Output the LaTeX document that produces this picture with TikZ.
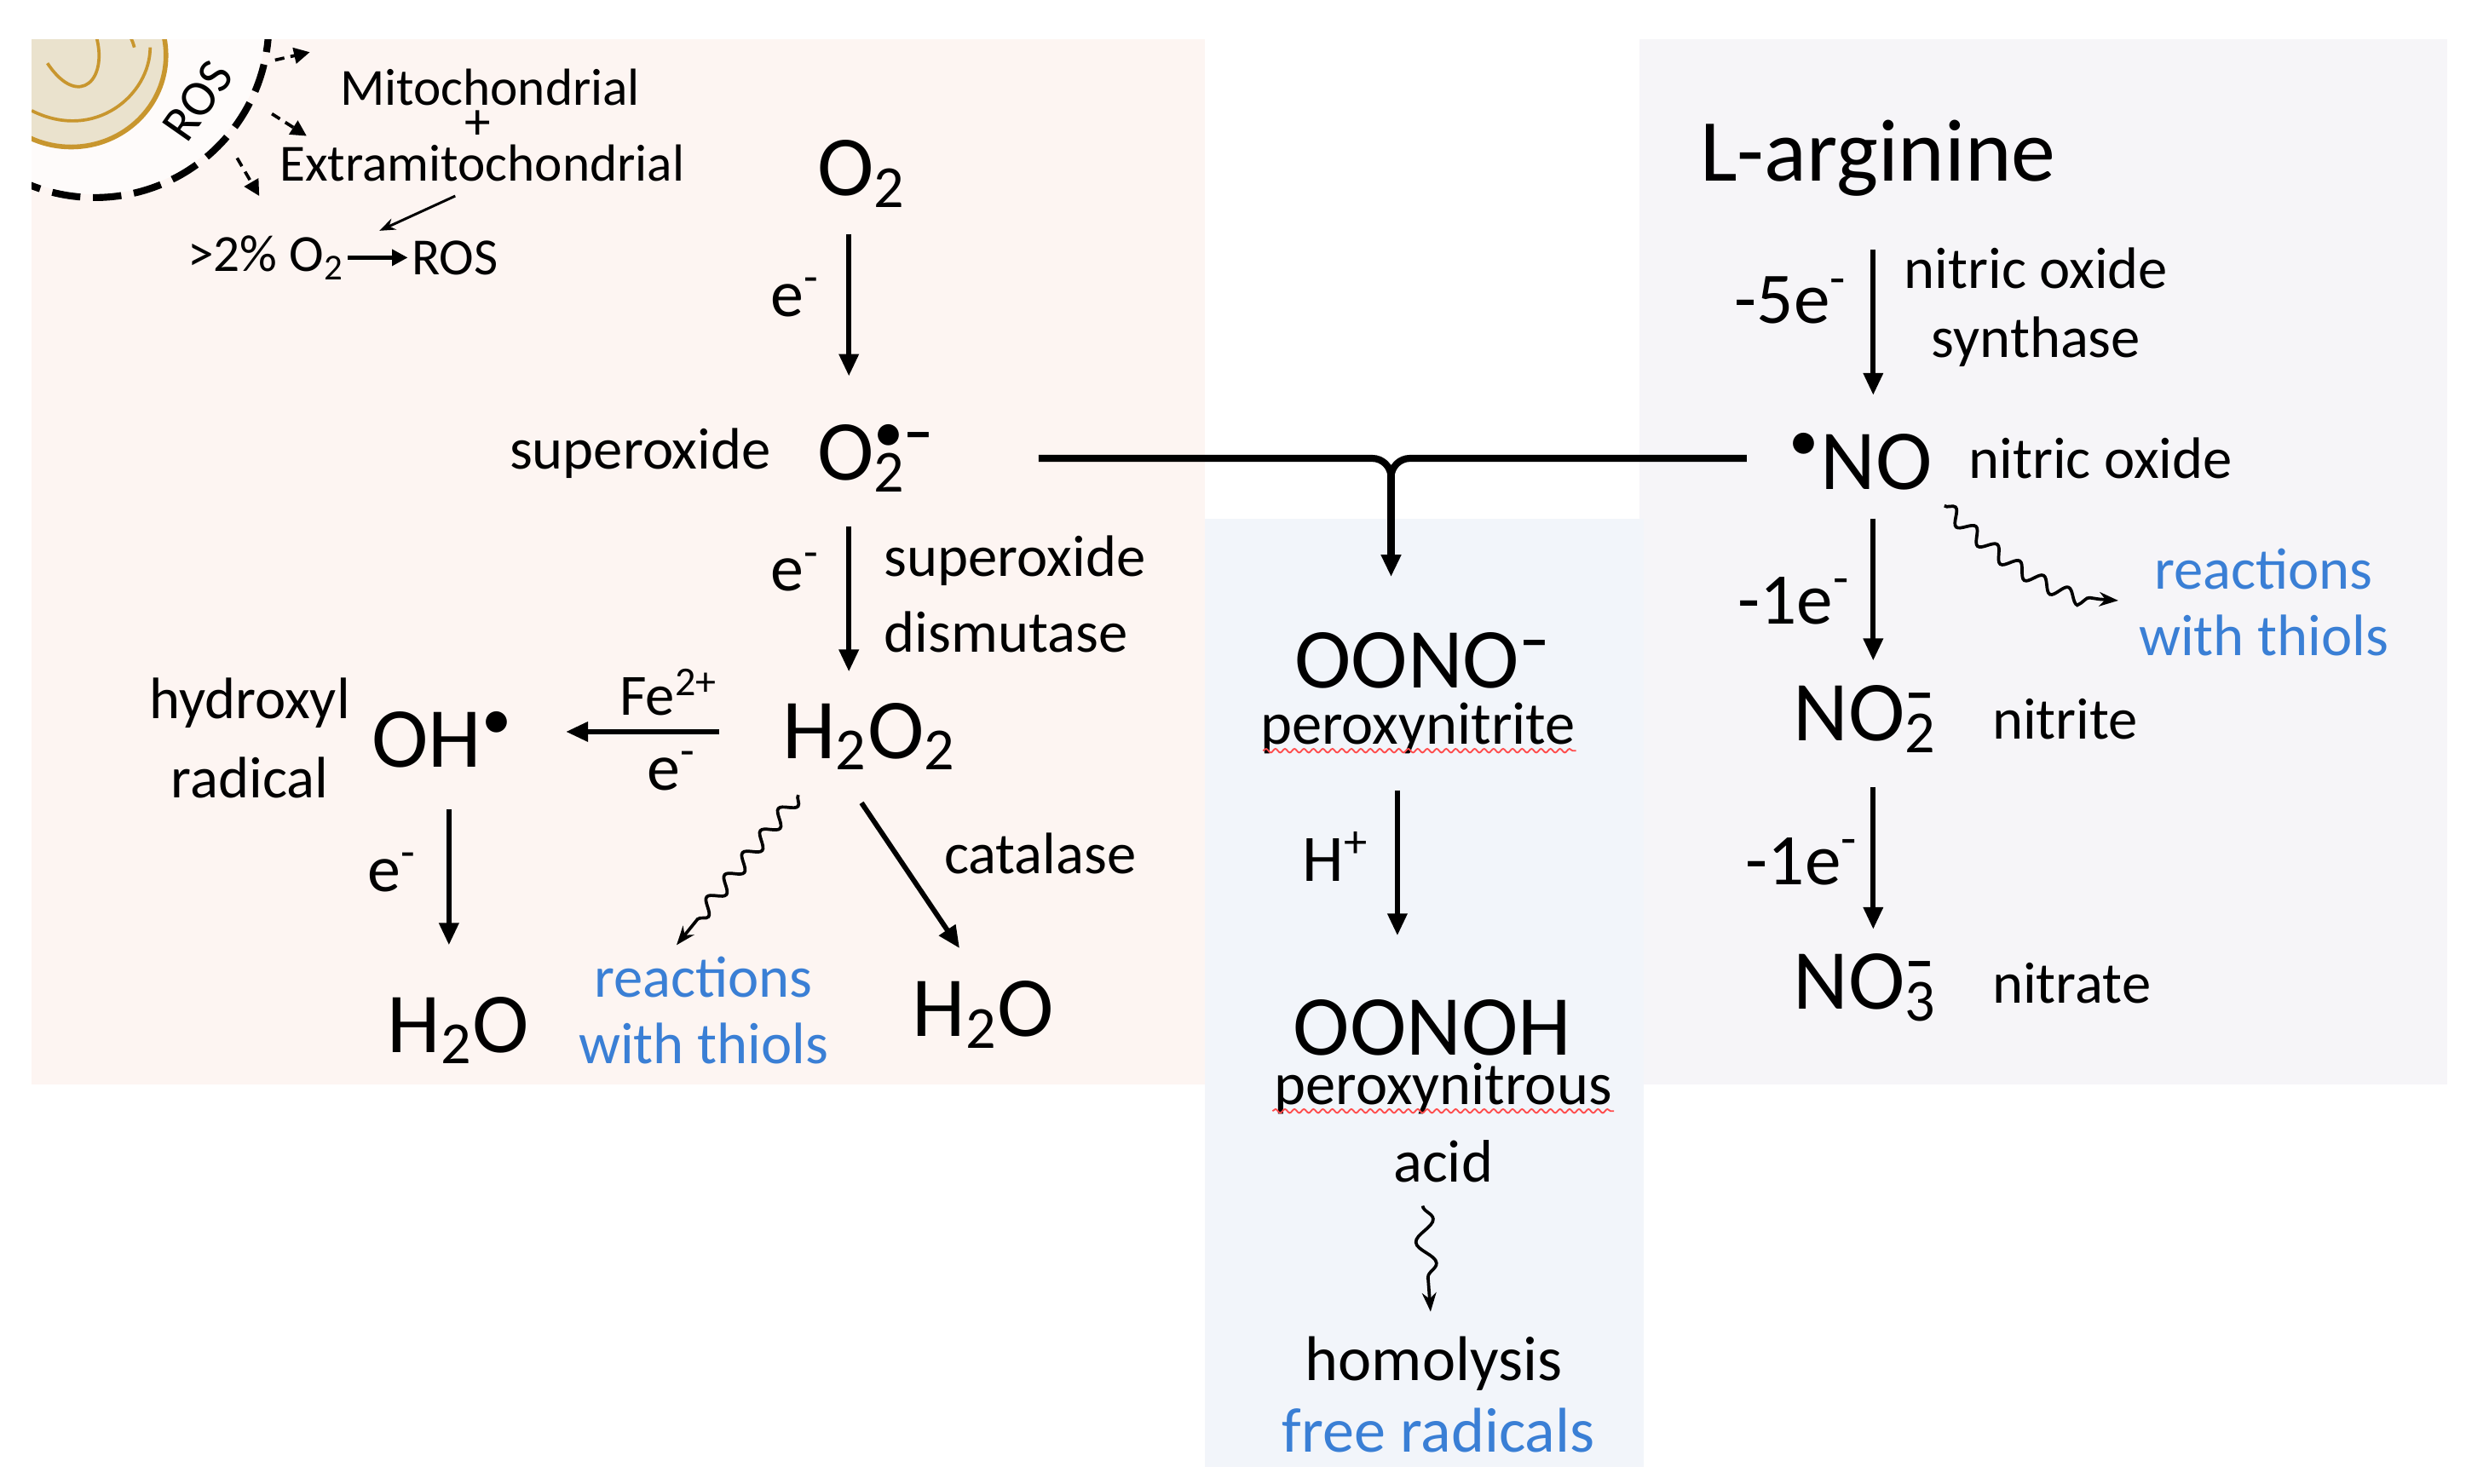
\documentclass[tikz,border=0pt]{standalone}
\usepackage{fontspec}
\setmainfont{Carlito}
\usetikzlibrary{arrows.meta,decorations.pathmorphing}
\newcommand\sub[1]{\textsubscript{#1}}
\newcommand\ssup[2]{\rlap{\textsuperscript{#1}}\textsubscript{#2}}
\definecolor{pinkbg}{HTML}{FDF5F2}
\definecolor{greybg}{HTML}{F6F5F8}
\definecolor{bluebg}{HTML}{F2F5FA}
\definecolor{thiol}{HTML}{3A7FD5}
\definecolor{mito}{HTML}{C8962E}
\definecolor{mitofill}{HTML}{EAE2CD}
\tikzset{
 lbl/.style={font=\fontsize{18.5}{21}\selectfont,inner sep=1pt},
 sml/.style={font=\fontsize{16.5}{18}\selectfont,inner sep=1pt},
 ee/.style={font=\fontsize{21}{22}\selectfont,inner sep=1pt},
 big/.style={font=\fontsize{27}{30}\selectfont,inner sep=1pt},
 blue/.style={lbl,text=thiol,align=center},
 arr/.style={-{Triangle[length=7pt,width=6pt]},line width=1.6pt},
 wav/.style={-{Stealth[length=6pt]},line width=1pt,decorate,decoration={snake,amplitude=2.2pt,segment length=9pt,post length=6pt}},
 spell/.style={red!70,line width=0.5pt,decorate,decoration={snake,amplitude=0.6pt,segment length=3pt}}
}
\begin{document}
\begin{tikzpicture}[x=0.5pt,y=-0.5pt]
\useasboundingbox (0,0) rectangle (1560,939);
\fill[white] (0,0) rectangle (1560,939);
\fill[pinkbg] (20,25) rectangle (762,686);
\fill[greybg] (1037,25) rectangle (1548,686);
\fill[bluebg] (762,328) rectangle (1040,928);
% mitochondrion
\begin{scope}
\clip (20,25) rectangle (762,686);
\fill[white!60!pinkbg] (60,15) circle (108);
\draw[mito,line width=1.5pt,fill=mitofill] (45,35) ellipse (60 and 58);
\draw[mito,line width=1pt] (30,40) .. controls (50,70) and (70,50) .. (60,20) .. controls (55,0) and (80,10) .. (85,30);
\draw[mito,line width=1pt] (20,70) .. controls (60,90) and (95,60) .. (95,30);
\draw[dash pattern=on 9pt off 4pt,line width=2.2pt] (60,15) circle (110);
\node[rotate=55,font=\fontsize{16}{18}\selectfont,inner sep=0pt] (ros) at (125,64) {ROS};
\end{scope}
\coordinate (m1) at (174,38); \coordinate (m1e) at (196,33);
\coordinate (m2) at (172,72); \coordinate (m2e) at (194,86);
\coordinate (m3) at (150,100); \coordinate (m3e) at (164,124);
\foreach \a/\b in {m1/m1e,m2/m2e,m3/m3e}
 \draw[-{Triangle[length=5pt,width=5pt]},line width=1pt,dash pattern=on 3pt off 2pt] (\a) -- (\b);
\node[sml] (mit) at (310,55) {Mitochondrial};
\node[sml] (plus) at (302,79) {+};
\node[sml] (ext) at (305,103) {Extramitochondrial};
\node[sml,anchor=east] (pct) at (220,163) {>2\% O\sub{2}};
\node[sml,anchor=west] (ros2) at (258,163) {ROS};
\draw[-{Stealth[length=5pt]},line width=0.8pt] (288,124) -- (240,146);
\draw[-{Triangle[length=5pt,width=5pt]},line width=1.3pt] (pct) -- (ros2);
% left chain
\node[big] (o2) at (545,110) {O\sub{2}};
\node[big] (sup) at (545,290) {O\ssup{•\textbf{–}}{2}};
\node[lbl,anchor=east] at (490,287) {superoxide};
\node[big] (h2o2) at (550,466) {H\sub{2}O\sub{2}};
\node[big] (oh) at (280,468) {OH\textsuperscript{•}};
\node[lbl,align=center] at (158,467) {hydroxyl\\[4pt]radical};
\node[big] (w1) at (290,652) {H\sub{2}O};
\node[big] (w2) at (622,642) {H\sub{2}O};
\draw[arr] (537,148) -- (537,238); \node[ee] at (503,188) {e\textsuperscript{-}};
\draw[arr] (537,333) -- (537,425); \node[ee] at (503,362) {e\textsuperscript{-}};
\node[lbl,anchor=west] at (557,355) {superoxide};
\node[lbl,anchor=west] at (557,400) {dismutase};
\draw[arr] (455,463) -- (358,463);
\node[lbl] at (423,438) {Fe\textsuperscript{2+}};
\node[ee] at (425,488) {e\textsuperscript{-}};
\draw[arr] (284,512) -- (284,598); \node[ee] at (248,552) {e\textsuperscript{-}};
\draw[wav] (505,503) -- (428,598);
\node[blue,anchor=north] (t1) at (445,603) {reactions\\[0pt]with thiols};
\draw[arr] (545,508) -- (607,600);
\node[lbl] at (658,540) {catalase};
% connector
\coordinate (L) at (657,290); \coordinate (R) at (1105,290); \coordinate (D) at (880,365);
\draw[line width=2.2pt] (L) -- (868,290) to[out=0,in=90] (880,302) to[out=90,in=180] (892,290) -- (R);
\draw[arr,line width=2.2pt] (880,300) -- (D);
% middle chain
\node[big] (oono) at (900,418) {OONO\textsuperscript{\textbf{–}}};
\node[lbl,font=\fontsize{19}{20}\selectfont] (pn) at (897,461) {peroxynitrite};
\draw[spell] (799,475) -- (997,475);
\draw[arr] (884,500) -- (884,592);
\node[ee] at (845,542) {H\textsuperscript{+}};
\node[big] (oonoh) at (906,650) {OONOH};
\node[lbl,font=\fontsize{19}{20}\selectfont] (pa) at (913,689) {peroxynitrous};
\draw[spell] (805,703) -- (1021,703);
\node[lbl,font=\fontsize{19}{20}\selectfont] at (913,735) {acid};
\draw[-{Stealth[length=6pt]},line width=1pt,decorate,decoration={snake,amplitude=3pt,segment length=14pt,post length=6pt}] (900,763) -- (905,830);
\node[lbl,font=\fontsize{20}{22}\selectfont] (hom) at (907,863) {homolysis};
\node[blue,font=\fontsize{20}{22}\selectfont] at (910,905) {free radicals};
% right chain
\node[big,font=\fontsize{28}{30}\selectfont] (arg) at (1188,100) {L-arginine};
\draw[arr] (1185,158) -- (1185,250);
\node[ee,font=\fontsize{23}{24}\selectfont] at (1133,190) {-5e\textsuperscript{-}};
\node[lbl] at (1288,170) {nitric oxide};
\node[lbl] at (1288,216) {synthase};
\node[big] (no) at (1177,292) {\textsuperscript{•}NO};
\node[lbl,anchor=west] at (1243,290) {nitric oxide};
\draw[wav] (1230,320) .. controls (1260,350) and (1300,380) .. (1340,380);
\node[blue,anchor=north] at (1432,345) {reactions\\[0pt]with thiols};
\draw[arr] (1185,328) -- (1185,418);
\node[ee,font=\fontsize{23}{24}\selectfont] at (1135,380) {-1e\textsuperscript{-}};
\node[big] (no2) at (1180,455) {NO\ssup{\textbf{–}}{2}};
\node[lbl,anchor=west] at (1258,455) {nitrite};
\draw[arr] (1185,498) -- (1185,588);
\node[ee,font=\fontsize{23}{24}\selectfont] at (1140,545) {-1e\textsuperscript{-}};
\node[big] (no3) at (1180,625) {NO\ssup{\textbf{–}}{3}};
\node[lbl,anchor=west] at (1258,622) {nitrate};
\end{tikzpicture}
\end{document}
